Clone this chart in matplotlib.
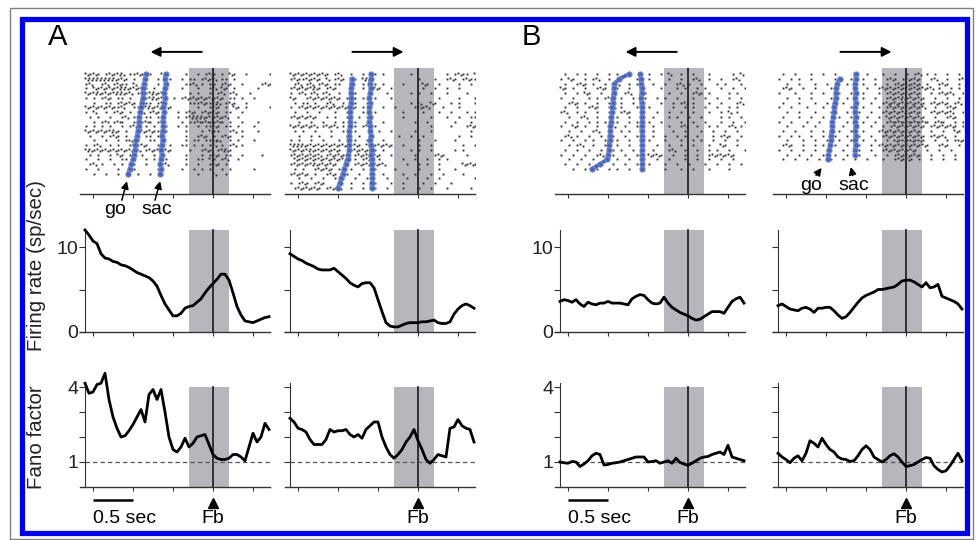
import numpy as np
import matplotlib.pyplot as plt
from matplotlib.patches import Rectangle

plt.rcParams['font.family'] = ['Liberation Sans', 'DejaVu Sans']

# time (sec) relative to feedback (Fb), sampling grid of the traces
t = np.round(np.arange(-1.6, 0.701, 0.05), 2)

# firing rate (sp/sec), columns: A left, A right, B left, B right
fr_al = [12.0, 11.4, 10.7, 10.4, 9.2, 8.7, 8.6, 8.3, 8.2, 7.9, 7.8, 7.6, 7.3, 7.0, 6.8, 6.6,
         6.4, 6.0, 5.4, 4.3, 3.3, 2.6, 1.9, 1.9, 2.2, 2.8, 3.0, 3.1, 3.5, 3.9, 4.6, 5.2,
         5.7, 6.2, 6.8, 6.8, 6.1, 4.6, 3.0, 2.0, 1.3, 1.2, 1.1, 1.3, 1.5, 1.7, 1.8]
fr_ar = [9.2, 8.9, 8.6, 8.4, 8.1, 7.9, 7.7, 7.4, 7.3, 7.3, 7.3, 7.5, 7.1, 6.7, 6.3, 5.8,
         5.5, 5.3, 5.7, 5.8, 5.8, 5.2, 3.8, 2.4, 1.1, 0.7, 0.6, 0.6, 0.8, 1.0, 1.1, 1.1,
         1.1, 1.2, 1.2, 1.3, 1.4, 1.1, 1.0, 1.0, 1.2, 2.1, 2.7, 3.1, 3.3, 3.1, 2.8]
fr_bl = [3.6, 3.8, 3.7, 3.5, 3.8, 3.3, 3.0, 3.5, 3.3, 3.2, 3.4, 3.4, 3.6, 3.4, 3.4, 3.4,
         3.3, 3.2, 3.9, 4.2, 4.4, 4.3, 3.8, 3.4, 3.3, 3.4, 4.1, 3.4, 2.9, 2.6, 2.3, 2.1,
         1.9, 1.6, 1.4, 1.5, 1.8, 2.1, 2.4, 2.4, 2.4, 2.2, 2.9, 3.6, 3.9, 4.1, 3.4]
fr_br = [3.1, 3.3, 3.0, 2.7, 2.6, 2.5, 2.8, 2.9, 2.7, 2.3, 2.8, 2.8, 2.9, 2.9, 2.5, 2.0,
         1.6, 1.8, 2.3, 2.9, 3.5, 4.0, 4.3, 4.5, 4.7, 5.0, 5.0, 5.1, 5.2, 5.3, 5.6, 6.0,
         6.1, 6.1, 5.9, 5.6, 5.3, 5.8, 5.2, 5.3, 5.6, 4.2, 4.0, 3.8, 3.6, 3.3, 2.7]

# Fano factor
ff_al = [4.15, 3.75, 3.8, 4.1, 4.15, 4.55, 3.5, 2.8, 2.35, 2.0, 2.05, 2.25, 2.5, 2.8, 3.1, 2.6,
         3.7, 3.9, 3.5, 3.9, 3.0, 2.0, 1.5, 1.4, 1.6, 1.95, 1.6, 1.75, 2.0, 2.05, 2.1, 1.7,
         1.3, 1.15, 1.1, 1.1, 1.15, 1.3, 1.3, 1.2, 1.05, 1.6, 2.15, 1.8, 2.0, 2.55, 2.3]
ff_ar = [2.75, 2.6, 2.35, 2.3, 2.2, 1.9, 1.7, 1.7, 1.7, 1.9, 2.3, 2.2, 2.25, 2.25, 2.3, 2.1,
         2.0, 2.1, 1.95, 2.3, 2.45, 2.6, 2.6, 2.0, 1.6, 1.3, 1.15, 1.3, 1.5, 1.8, 2.0, 2.3,
         1.85, 1.5, 1.1, 0.95, 1.1, 1.3, 1.25, 1.2, 2.35, 2.4, 2.7, 2.45, 2.35, 2.3, 1.8]
ff_bl = [1.0, 0.97, 0.95, 1.02, 1.0, 0.82, 0.92, 1.05, 1.25, 1.35, 1.3, 0.88, 0.9, 0.95, 0.97, 1.0,
         1.05, 1.1, 1.15, 1.2, 1.2, 1.2, 1.0, 1.02, 1.05, 0.95, 1.0, 1.05, 0.95, 1.15, 0.98, 0.92,
         0.87, 0.95, 1.05, 1.15, 1.2, 1.22, 1.3, 1.35, 1.4, 1.3, 1.67, 1.2, 1.15, 1.1, 1.05]
ff_br = [1.35, 1.2, 1.1, 0.97, 1.15, 1.25, 1.05, 1.35, 1.85, 1.75, 1.6, 1.95, 1.7, 1.5, 1.4, 1.2,
         1.12, 1.1, 1.02, 1.05, 1.25, 1.5, 1.65, 1.5, 1.2, 1.1, 1.0, 1.1, 1.25, 1.33, 1.2, 1.0,
         0.82, 0.85, 0.9, 1.0, 1.1, 1.18, 1.15, 0.85, 0.7, 0.6, 0.65, 0.85, 1.1, 1.35, 1.05]

# go / saccade times per trial (sec), top trial first
go_al = [-0.84, -0.85, -0.86, -0.87, -0.87, -0.88, -0.89, -0.90, -0.91, -0.92, -0.93,
         -0.93, -0.94, -0.95, -0.96, -0.97, -0.98, -0.99, -1.00, -1.02, -1.04, -1.06]
sac_al = [-0.59, -0.60, -0.59, -0.60, -0.61, -0.60, -0.61, -0.62, -0.61, -0.62, -0.63,
          -0.62, -0.63, -0.64, -0.63, -0.64, -0.65, -0.64, -0.65, -0.66, -0.65, -0.66]
go_ar = [np.nan, -0.83, -0.83, -0.84, -0.84, -0.84, -0.84, -0.85, -0.85, -0.85, -0.85, -0.85,
         -0.86, -0.86, -0.86, -0.86, -0.86, -0.87, -0.88, -0.90, -0.92, -0.94, -0.96, -0.98, -1.00]
sac_ar = [-0.59, -0.59, -0.60, -0.59, -0.60, -0.61, -0.60, -0.61, -0.61, -0.60, -0.61, -0.60,
          -0.60, -0.59, -0.60, -0.59, -0.58, -0.59, -0.58, -0.58, -0.57, -0.58, -0.57, -0.58, -0.58]
go_bl = [-0.74, -0.86, -0.92, -0.93, -0.93, -0.94, -0.94, -0.95, -0.95, -0.96, -0.96,
         -0.97, -0.97, -0.98, -0.98, -0.99, -0.99, -1.00, -1.01, -1.10, -1.20]
sac_bl = [-0.60, -0.59, -0.59, -0.58, -0.58, -0.59, -0.58, -0.58, -0.57, -0.58, -0.57,
          -0.58, -0.58, -0.57, -0.58, -0.57, -0.57, -0.58, -0.57, -0.57, -0.57]
go_br = [np.nan, -0.83, -0.86, -0.87, -0.88, -0.88, -0.89, -0.90, -0.90, -0.91,
         -0.92, -0.92, -0.93, -0.94, -0.94, -0.95, -0.96, -0.97, -0.98]
sac_br = [-0.63, -0.63, -0.64, -0.64, -0.63, -0.64, -0.63, -0.64, -0.64, -0.63,
          -0.64, -0.63, -0.64, -0.63, -0.64, -0.63, -0.64, -0.64, np.nan]

# spike rasters: one string per trial, one char per 50 ms bin from -1.6 s
# '.' = one spike, ':' = two spikes
raster_al = [
    ":.:. .:.:: ..:. .  :.    .  . .:. . :.  .     .",
    "::::::::.:. .  .  .  .  . .. .:.: .. .         ",
    ".:  .: .:.. :  .  .      ..: . .. .:.  .    .:.",
    ". :.:.:.:::.:.:. .  .   .   .  .: :. .     .   ",
    ":.::.:.:::.: .:.::.:      . .  . .: .:   .     ",
    ". . .:. .. .  ..::.:  . .:.:.:.:.:. .. .  .    ",
    "  .  .. .:.:.  .. .:      ...:..:: .:.  .      ",
    ":.:.:.:..:  .. ::.:.:.      .  .:. . :. .     .",
    ". :  . .:. . .: .:.    . .:. .:.:. ..  .       ",
    " . .  .  .: .  .. .    . .::::.:.:.:  .        ",
    "  . .: .:.  . .:. .:    . ..:.:..:. .  .   .   ",
    ". . . .  . .:. . .  .  . .  . ..:. .. .   .   ",
    ":.:.:.::. .  .:.:..:.    .   . :..  .: .   .   ",
    " .  . .:. .  . .. .      .  .:. . .:.  .       ",
    "  .  .  . .: .  ..       . .. ..::  . .   .    ",
    ". .:  . .  .:.:.  .  .  .. . . .: . .: .       ",
    "::.:.:.:.:.:.: .:.:.:.    .  .:. .::.          ",
    " . .  . :. .  .  .       .   . .:. ..  .    .  ",
    ".  .  .  .. .  . .  .    .  .. :. .:  .        ",
    " .: .  . .  .  .   .:    .  .  .:. .           ",
    ".  .    .   .     .     .  . . .  . .     .    ",
    "  .  .  .    .  .  .        .   :  .           ",
]
raster_ar = [
    ":.:.:.:.:. .:  .  . .. .      .        . .:.. :.",
    ".:..:.:. : .:.  . ::.           .   .  .:. .:.. ",
    " .: .: .:. ..  :  .  . .    .    :.  .    .  . .",
    ".:.:.::. .:.   .  . .:.  .       .  .  .  .    ",
    ". .: .: .:  .   .   .   .     . .  .   .    .   ",
    ":.  .:.:.:.:. .:. .  .   .           .    .   .",
    " . .. .  .:  .  .  .          . :  :.   . .   . ",
    ". .:.:.:.:.:.:.:. . .  .  .    .:.:   .   .     ",
    " .  .  .   .  .   .  .      .    .   .  .   . .",
    ".:.:.:.  . .  .  . .        .      .   .  .  ..",
    "  .  .  .  . .  .   .  .       .  .      .   . ",
    ":.:.:.: .:.: .  . .: .             .    .   .:.",
    " . .  .   .  .  .     .  .     .   .         . ",
    "  .  . .  .   .  .  .      .  .  .        .  . ",
    ". .  .  .   .   .  .   .        .   .    .     ",
    "::::.:.:.:.:.:. :. ::.:.:.  .   .  .       .  .",
    ":.:.::.:.:.:.  .:.:.:. .      . .  .     . .   ",
    ".:.:.:.: .:.:.  .:.:.:.  .     .    .:.     .   ",
    " :.:.:.:.:.:.:. . .:. .     .  .  .  . .       .",
    ".:.:.::.:.:.  . .:.:.:.:     .  . .  .     :.:.:",
    " . .  .:.:. .  .  .  .    .     .    .   .      ",
    ".:.:. .  .:.  .  .  .  .    .  .   .  .    .   ",
    "  .  .  .  . .  .  .    .    .    .  .        . ",
    ". .:. .:.   .  .  .  .   .  .    .  .   .      ",
    " .:.:.:. .:.:  .  .  .  .   .   .  .   .     . ",
]
raster_bl = [
    " .  . .  .  . .  .    .  . :  .  .   .     . : ",
    ". :.  . .:  .  .   .  .    .  .  .:  .  .  .:  ",
    " .  .:. .  . .:  . .   .  .  .: .  .   . .   . ",
    ":. .  .  .:.  .  .  .    .   . .  . .   .  .  .",
    " .  . :.  .  .  .:   .     .  .  .:. .    . .  ",
    ".  .   . . .:  .  .  .  . .  .   .  .  .  .  . ",
    "  .:. .  .  .  .  . .    .  . .: .   .  .   .: ",
    " .  .  .:.  .: .   .  .     .  . .  .  .  . .  ",
    ".:  . .  .  .  .:.  .   .  .  .  .   .  . : .  ",
    "  .  .:  .  . .  .  .  .   . .  .  .    . .  . ",
    " .  .  . . .  .  . .  .  .    .  .  .   .  .  .",
    ".  :. .  .  .:  .  .   .   .  .:  .  . .  .: . ",
    "  .  .  .:  .  . .  .  .    .  .   .  .  .  .  ",
    " .: .  .  .  .  .  .   .  .  . .  .   . .:.  . ",
    ".  .  . .  .: .  .  . .   .   .  . .  .  .  .  ",
    "  . .:  .  .  .  .  .   .  .  .  .   .  :.  .  ",
    " .  .  .  .  . .  . .  .   .:  .  .  . .  .   .",
    ".  .  .  .:  .  .  .  :.:.  .  .  .  .:.:.:.  ",
    "  .  .  .  .  .  .  .   .  .   .  .  .  .  .   ",
    " .  .  .  .  .  .  .  .   .  .  .   .  .  .  . ",
    "   .  .  .  . .  .  .     .   .  .   .    .    ",
]
raster_br = [
    " .  .   .  .  .    .  .   .  .  . .: . .  .  . ",
    ".  . .  .     .   .  .  .  .:. .:.:.  .:  .  .:",
    "  .  .   .  .    .   .  .  . .:.:.:. .  .:.  . ",
    " .:.  .  .   .     .  .  .:.:.:.:.:.:.: .  . . ",
    ".   .   .  .   .  .  .   . .:.:.:.:.  . .:.:  .",
    "  .  .  .    .   .   .  .  .:.::.:.:.  .  .  . ",
    " .   .   .  .   .  .   .  .:.:.:.:.:. .:.:. .: ",
    ".  .   .   .  .   .  .   . .:.:.:.:.:  .  .:.  ",
    "  .  .   .   .   .  .  .  .:.:.::.:.  .:.:.:  .",
    " .   .  .  .   .  .   .  . :.:.:.:.:.  .  .:.  ",
    ".  .   .  .  .   .   .  .  .:.:.:.:.:. .:.  . .",
    "  .   .  .   .  .  .   .  . .:.:.:.:. .:.:.:. .",
    " .  .   .  .   .  .  .   .:.:.:.:.:.  .  .  :. ",
    ".  . .  .  .  .  .  .  .  .:.:.:.:.:. .:.:  . ",
    "  .   .  .  .  .  .  .  .  . :.:.:.:.  .  . .:.",
    " .:.  .  . .  .  .  .  . .:.:.:.:.:.:.  .:.  . ",
    ".  .  .  .  .   .   .  .  .:.:.:.:.  .  .  .  ",
    "  .  .  .  .  .  .  .   .  . .:.:.:.  .  .  . ",
    " .  .  .  .  .  .  .  .   .  .:.:. .  .  .  .  ",
]

fr_ticks = [0, 5, 10]
ff_ticks = [1, 2, 3, 4]
time_ticks = [-1.5, -1.0, -0.5, 0.0, 0.5]
shade = (-0.3, 0.2)   # grey analysis window around Fb

columns = [
    dict(raster=raster_al, go=go_al, sac=sac_al, fr=fr_al, ff=ff_al, arrow=-1, labels=True),
    dict(raster=raster_ar, go=go_ar, sac=sac_ar, fr=fr_ar, ff=ff_ar, arrow=1, labels=False),
    dict(raster=raster_bl, go=go_bl, sac=sac_bl, fr=fr_bl, ff=ff_bl, arrow=-1, labels=True),
    dict(raster=raster_br, go=go_br, sac=sac_br, fr=fr_br, ff=ff_br, arrow=1, labels=False),
]

W, H = 976, 540
fig = plt.figure(figsize=(W / 100, H / 100), dpi=100)

def add_ax(left, top, width, height):
    return fig.add_axes([left / W, 1 - (top + height) / H, width / W, height / H])

px_per_sec = 80
xlim = (-1.66, 0.71)
fb_px = [213, 418, 688, 906]
shade_col = '#b5b7bd'
blue = '#4a65b8'
ink = '#1a1a1a'
fs = 14

def style_time_axis(ax):
    ax.set_xlim(*xlim)
    ax.set_xticks(time_ticks)
    ax.set_xticklabels([])
    ax.tick_params(axis='x', direction='out', length=3, width=0.8, color='#333')
    for s in ('top', 'right'):
        ax.spines[s].set_visible(False)
    ax.spines['bottom'].set_linewidth(1.0)
    ax.spines['bottom'].set_color('#333')
    ax.patch.set_alpha(0)

def small_arrow(ax, tail, tip):
    ax.annotate('', xy=tip, xytext=tail, annotation_clip=False,
                arrowprops=dict(arrowstyle='-|>', color='black', lw=1.1,
                                mutation_scale=11, shrinkA=0, shrinkB=0))

for ci, col in enumerate(columns):
    left = fb_px[ci] + xlim[0] * px_per_sec
    width = (xlim[1] - xlim[0]) * px_per_sec

    # ---- raster ----
    rax = add_ax(left, 68, width, 126)
    style_time_axis(rax)
    rax.spines['left'].set_visible(False)
    rax.set_yticks([])
    rax.set_ylim(25.3, -1.3)
    rax.axvspan(*shade, color=shade_col, lw=0, zorder=0)
    rax.axvline(0, color=ink, lw=1.2, zorder=1)
    sx, sy = [], []
    for row, line in enumerate(col['raster']):
        for k, ch in enumerate(line):
            t0 = -1.6 + 0.05 * k
            if ch == '.':
                sx.append(t0 + 0.018); sy.append(row)
            elif ch == ':':
                sx += [t0 + 0.006, t0 + 0.034]; sy += [row - 0.2, row + 0.2]
    rax.plot(sx, sy, 's', ms=1.35, mew=0, color='#2e2e2e', zorder=2)
    for ev in ('go', 'sac'):
        vals = col[ev]
        rax.plot(vals, np.arange(len(vals)), '-o', color=blue, lw=2.8, ms=3.8,
                 mec='#7a8fd2', mew=0.7, zorder=3)
    # direction arrow above the raster
    a0, a1 = (-0.14, -0.78) if col['arrow'] < 0 else (-0.82, -0.18)
    rax.annotate('', xy=(a1, -4.7), xytext=(a0, -4.7), annotation_clip=False,
                 arrowprops=dict(arrowstyle='-|>', color='black', lw=1.4, mutation_scale=14,
                                 shrinkA=0, shrinkB=0))

    # ---- firing rate ----
    ax = add_ax(left, 332 - 12.3 * 8.5, width, 12.3 * 8.5)
    style_time_axis(ax)
    ax.set_ylim(0, 12.3)
    ax.spines['left'].set_position(('data', -1.6))
    ax.spines['left'].set_bounds(0, 12)
    ax.spines['left'].set_color('#333')
    ax.set_yticks(fr_ticks)
    ax.set_yticklabels(['0', '', '10'] if col['labels'] else [])
    ax.tick_params(axis='y', direction='out', length=4, width=0.8, pad=1,
                   labelsize=fs, labelcolor='#222', color='#333')
    ax.fill_between(list(shade), 0, 12, color=shade_col, lw=0, zorder=0)
    ax.plot([0, 0], [0, 12], color=ink, lw=1.2, zorder=1)
    ax.plot(t[:len(col['fr'])], col['fr'], color='black', lw=2.0, zorder=3,
            solid_joinstyle='round', clip_on=False)

    # ---- Fano factor ----
    ax = add_ax(left, 487 - 4.7 * 25, width, 4.7 * 25)
    style_time_axis(ax)
    ax.set_ylim(0, 4.7)
    ax.spines['left'].set_position(('data', -1.6))
    ax.spines['left'].set_bounds(0, 4.15)
    ax.spines['left'].set_color('#333')
    ax.set_yticks(ff_ticks)
    ax.set_yticklabels(['1', '', '', '4'] if col['labels'] else [])
    ax.tick_params(axis='y', direction='out', length=4, width=0.8, pad=1,
                   labelsize=fs, labelcolor='#222', color='#333')
    ax.fill_between(list(shade), 0, 4, color=shade_col, lw=0, zorder=0)
    ax.plot([0, 0], [0, 4], color=ink, lw=1.2, zorder=1)
    ax.hlines(1, -1.6, xlim[1], colors='#555', lw=0.9, linestyles=(0, (3.5, 2.5)), zorder=2)
    ax.plot(t[:len(col['ff'])], col['ff'], color='black', lw=2.0, zorder=3,
            solid_joinstyle='round', clip_on=False)
    # Fb marker and label
    ax.plot(0, -0.64, '^', color='black', ms=7.5, clip_on=False)
    ax.text(0, -1.26, 'Fb', ha='center', va='center', fontsize=fs, clip_on=False)
    if col['labels']:
        ax.plot([-1.5, -1.0], [-0.52, -0.52], color='black', lw=1.8,
                solid_capstyle='butt', clip_on=False)
        ax.text(-1.5, -1.26, '0.5 sec', ha='left', va='center', fontsize=fs, clip_on=False)

    # go / sac labels
    if ci == 0:
        rax.text(-1.225, 28.6, 'go', ha='center', va='center', fontsize=fs)
        rax.text(-0.70, 28.6, 'sac', ha='center', va='center', fontsize=fs)
        small_arrow(rax, (-1.14, 26.6), (-1.075, 22.6))
        small_arrow(rax, (-0.725, 26.6), (-0.66, 22.6))
    if ci == 3:
        rax.text(-1.19, 23.6, 'go', ha='center', va='center', fontsize=fs)
        rax.text(-0.65, 23.6, 'sac', ha='center', va='center', fontsize=fs)
        small_arrow(rax, (-1.125, 21.4), (-1.055, 19.8))
        small_arrow(rax, (-0.665, 21.4), (-0.69, 19.6))

# panel letters and row labels
fig.text(48 / W, 1 - 37 / H, 'A', fontsize=21, va='center', ha='left')
fig.text(522 / W, 1 - 37 / H, 'B', fontsize=21, va='center', ha='left')
fig.text(37 / W, 1 - 266 / H, 'Firing rate (sp/sec)', rotation=90, fontsize=14.8,
         ha='center', va='center', color='#222')
fig.text(37 / W, 1 - 437 / H, 'Fano factor', rotation=90, fontsize=14.8,
         ha='center', va='center', color='#222')

# frame: thin grey outer line and thick blue border
fig.patches.append(Rectangle((10 / W, 1 - 539 / H), 963 / W, 531 / H, transform=fig.transFigure,
                             fill=False, ec='#808080', lw=1.0))
fig.patches.append(Rectangle((21.5 / W, 1 - 532.5 / H), 945 / W, 514 / H, transform=fig.transFigure,
                             fill=False, ec='#0000e6', lw=3.8))

fig.savefig('out.png', dpi=100)
